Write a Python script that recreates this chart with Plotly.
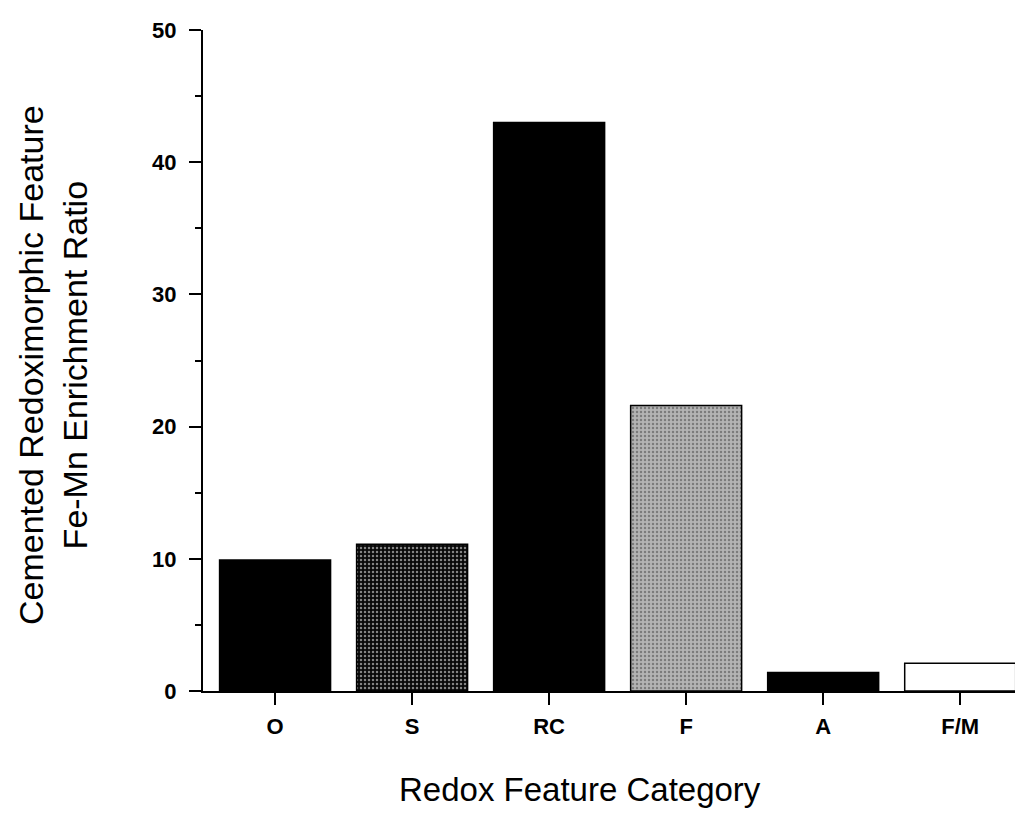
import plotly.graph_objects as go

# Redox feature categories and their Fe-Mn enrichment ratios
categories = ["O", "S", "RC", "F", "A", "F/M"]
enrichment_ratio = [9.9, 11.1, 43.0, 21.6, 1.4, 2.1]

# Fill style per bar
bar_fill = ["#000000", "#080808", "#000000", "#b4b4b4", "#000000", "#ffffff"]
pattern_shape = ["", ".", "", ".", "", ""]
pattern_fg = ["#000000", "#1e1e1e", "#000000", "#6e6e6e", "#000000", "#000000"]

fig = go.Figure(
    go.Bar(
        x=list(range(len(categories))),
        y=enrichment_ratio,
        width=0.81,
        marker=dict(
            color=bar_fill,
            line=dict(color="#000000", width=1.5),
            pattern=dict(
                shape=pattern_shape,
                fgcolor=pattern_fg,
                bgcolor=bar_fill,
                size=4,
                solidity=0.3,
                fillmode="overlay",
            ),
        ),
        showlegend=False,
    )
)

tick_font = dict(family="Liberation Sans, Arial, sans-serif", size=22, color="#000000", weight="bold")
x_title_font = dict(family="Liberation Sans, Arial, sans-serif", size=33, color="#000000")
y_title_font = dict(family="Liberation Sans, Arial, sans-serif", size=34, color="#000000")

# plot-area pixel extents used to place the axis titles
L, R, T, B = 203, 1015, 30, 691
W, H = R - L, B - T

fig.update_layout(
    width=1019,
    height=816,
    margin=dict(l=L, r=1019 - R, t=T, b=816 - B),
    paper_bgcolor="#ffffff",
    plot_bgcolor="#ffffff",
    xaxis=dict(
        range=[-0.526, 5.40],
        tickmode="array",
        tickvals=list(range(len(categories))),
        ticktext=categories,
        ticks="outside",
        ticklen=12,
        tickwidth=2,
        tickcolor="#000000",
        showline=True,
        linecolor="#000000",
        linewidth=2,
        showgrid=False,
        zeroline=False,
        tickfont=tick_font,
        ticklabelstandoff=3,
    ),
    yaxis=dict(
        range=[0, 50],
        tickmode="array",
        tickvals=[0, 10, 20, 30, 40, 50],
        ticks="outside",
        ticklen=12,
        tickwidth=2,
        tickcolor="#000000",
        showline=True,
        linecolor="#000000",
        linewidth=2,
        showgrid=False,
        zeroline=False,
        tickfont=tick_font,
        ticklabelstandoff=8,
        minor=dict(tickvals=[5, 15, 25, 35, 45], ticks="outside", ticklen=6, tickwidth=2, tickcolor="#000000"),
    ),
    annotations=[
        dict(
            text="Redox Feature Category",
            xref="paper", yref="paper",
            x=(580 - L) / W, y=-(789 - B) / H,
            xanchor="center", yanchor="middle",
            showarrow=False, font=x_title_font,
        ),
        dict(
            text="Cemented Redoximorphic Feature<br>Fe-Mn Enrichment Ratio",
            xref="paper", yref="paper",
            x=-(L - 53) / W, y=(B - 365) / H,
            xanchor="center", yanchor="middle",
            textangle=-90,
            showarrow=False, font=y_title_font,
        ),
    ],
)

fig.write_html("out.html")
